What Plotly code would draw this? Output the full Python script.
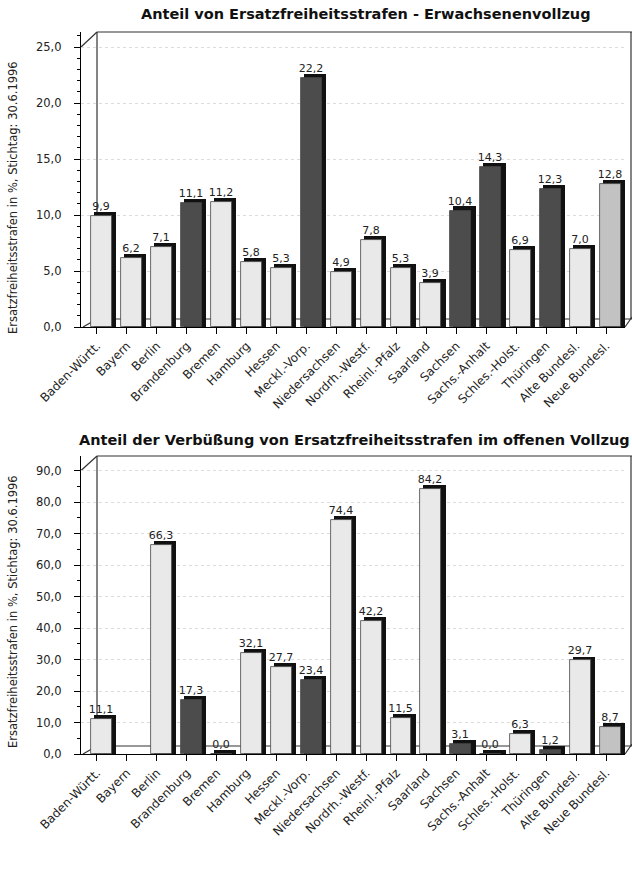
import plotly.graph_objects as go

# Bundesländer (x categories)
laender = [
    "Baden-Württ.", "Bayern", "Berlin", "Brandenburg", "Bremen", "Hamburg",
    "Hessen", "Meckl.-Vorp.", "Niedersachsen", "Nordrh.-Westf.", "Rheinl.-Pfalz",
    "Saarland", "Sachsen", "Sachs.-Anhalt", "Schles.-Holst.", "Thüringen",
    "Alte Bundesl.", "Neue Bundesl.",
]
# West / Ost / Summenbalken
gruppe = [
    "west", "west", "west", "ost", "west", "west", "west", "ost", "west", "west",
    "west", "west", "ost", "ost", "west", "ost", "west", "neu",
]
# Anteil von Ersatzfreiheitsstrafen im Erwachsenenvollzug (%)
anteil_efs = [9.9, 6.2, 7.1, 11.1, 11.2, 5.8, 5.3, 22.2, 4.9, 7.8, 5.3, 3.9,
              10.4, 14.3, 6.9, 12.3, 7.0, 12.8]
# Anteil der Verbüßung im offenen Vollzug (%), Bayern ohne Angabe
anteil_offen = [11.1, None, 66.3, 17.3, 0.0, 32.1, 27.7, 23.4, 74.4, 42.2, 11.5,
                84.2, 3.1, 0.0, 6.3, 1.2, 29.7, 8.7]

titel_oben = "Anteil von Ersatzfreiheitsstrafen - Erwachsenenvollzug"
titel_unten = "Anteil der Verbüßung von Ersatzfreiheitsstrafen im offenen Vollzug"
y_titel = "Ersatzfreiheitsstrafen in %, Stichtag: 30.6.1996"

W, H = 632, 883
farben = {"west": "#e9e9e9", "ost": "#4c4c4c", "neu": "#c2c2c2"}
FONT = "DejaVu Sans, Liberation Sans, sans-serif"


def px(x):
    return x / W


def py(y):
    return 1 - y / H


def fmt(v):
    return "" if v is None else f"{v:.1f}".replace(".", ",")


fig = go.Figure()


def add_bars(werte, xa, ya, kappe):
    idx = list(range(len(laender)))
    # dark side/top edge giving the bars a slight 3D look
    fig.add_trace(go.Bar(
        x=idx, y=[None if v is None else v + kappe for v in werte],
        width=0.74, offset=-0.1, marker=dict(color="#111111", line=dict(width=0)),
        xaxis=xa, yaxis=ya, showlegend=False, hoverinfo="skip",
    ))
    fig.add_trace(go.Bar(
        x=idx, y=werte, width=0.7, offset=-0.2,
        marker=dict(color=[farben[g] for g in gruppe],
                    line=dict(color="#444444", width=0.8)),
        text=[fmt(v) for v in werte], textposition="outside",
        constraintext="none",
        textfont=dict(family=FONT, size=11, color="#222222"),
        cliponaxis=False,
        xaxis=xa, yaxis=ya, showlegend=False,
    ))


add_bars(anteil_efs, "x2", "y2", 0.36)
add_bars(anteil_offen, "x", "y", 1.25)

AX_X, WALL_X, RIGHT_X = 81, 97, 625
xcommon = dict(
    domain=[px(AX_X), px(RIGHT_X)], range=[-0.534, 17.63], tickmode="array",
    tickvals=list(range(len(laender))), ticktext=laender, tickangle=-45,
    ticks="outside", ticklen=6, tickcolor="black", showline=True,
    linecolor="black", linewidth=1.3, showgrid=False, zeroline=False,
    automargin=False,
    tickfont=dict(family=FONT, size=12, color="#222222"),
)
ycommon = dict(
    tickformat=".1f", ticks="outside", ticklen=6, tickcolor="black",
    showline=True, linecolor="black", linewidth=1.3, zeroline=False,
    showgrid=True, gridcolor="#dcdcdc", griddash="dot", gridwidth=1,
    automargin=False, ticklabelstandoff=10,
    tickfont=dict(family=FONT, size=11.5, color="#222222"),
)

# pixel geometry of both panels: zero line, top frame, px per unit
TOP0, TOPF, TOPS = 327, 32, 11.2
BOT0, BOTF, BOTS = 754, 456, 3.15

fig.update_layout(
    width=W, height=H, margin=dict(l=0, r=0, t=0, b=0),
    paper_bgcolor="white", plot_bgcolor="white",
    barmode="overlay", separators=",.", bargap=0,
    font=dict(family=FONT, color="#222222"),
    xaxis=dict(anchor="y", **xcommon),
    xaxis2=dict(anchor="y2", **xcommon),
    yaxis=dict(anchor="x", domain=[py(BOT0), py(BOTF)],
               range=[0, (BOT0 - BOTF) / BOTS],
               dtick=10, minor=dict(dtick=5, ticks="outside", ticklen=3,
                                    tickcolor="black"), **ycommon),
    yaxis2=dict(anchor="x2", domain=[py(TOP0), py(TOPF)],
                range=[0, (TOP0 - TOPF) / TOPS],
                dtick=5, minor=dict(dtick=1, ticks="outside", ticklen=3,
                                    tickcolor="black"), **ycommon),
)

# titles and axis captions
fig.add_annotation(text=f"<b>{titel_oben}</b>", x=px(366), y=py(14),
                   xref="paper", yref="paper", showarrow=False,
                   xanchor="center", yanchor="middle",
                   font=dict(family=FONT, size=14.5, color="#111111"))
fig.add_annotation(text=f"<b>{titel_unten}</b>", x=px(354), y=py(440),
                   xref="paper", yref="paper", showarrow=False,
                   xanchor="center", yanchor="middle",
                   font=dict(family=FONT, size=14.5, color="#111111"))
for yc in (198, 612):
    fig.add_annotation(text=y_titel, x=px(13), y=py(yc), xref="paper",
                       yref="paper", showarrow=False, textangle=-90,
                       xanchor="center", yanchor="middle",
                       font=dict(family=FONT, size=11.5, color="#222222"))


# 3D box outline (back wall and floor edges)
def box(top, top_tick, front):
    ln = dict(color="#333333", width=1.2)
    back = front - 8
    lines = [
        (WALL_X, top, 632, top),             # back wall top edge
        (WALL_X, top, WALL_X, back),         # back wall left edge
        (AX_X, top_tick, WALL_X, top),       # top-left depth edge
        (AX_X + 2, front, WALL_X, back),     # bottom-left depth edge
        (WALL_X, back, 632, back),           # back floor edge
        (631, top, 631, back),               # right edge
        (RIGHT_X, front, 632, back - 2),     # floor right depth edge
    ]
    for x0, y0, x1, y1 in lines:
        fig.add_shape(type="line", xref="paper", yref="paper",
                      x0=px(x0), y0=py(y0), x1=px(x1), y1=py(y1),
                      line=ln, layer="below")


box(TOPF, TOP0 - 25 * TOPS, TOP0)
box(BOTF, BOT0 - 90 * BOTS, BOT0)

fig.write_html("out.html")
